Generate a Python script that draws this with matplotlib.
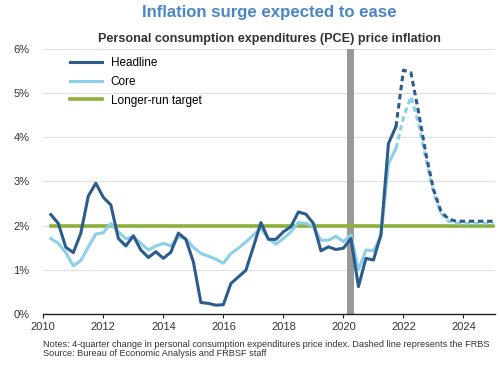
import matplotlib
matplotlib.use("Agg")
import matplotlib.pyplot as plt
from matplotlib.ticker import FuncFormatter

plt.rcParams['font.family'] = ['Liberation Sans', 'DejaVu Sans']

# quarterly dates (end of quarter), 2010Q1 .. 2021Q3 actual
actual_t = [2010 + 0.25 * (i + 1) for i in range(47)]
headline = [2.25, 2.05, 1.51, 1.39, 1.83, 2.67, 2.96, 2.64, 2.47, 1.71, 1.54, 1.77,
            1.45, 1.28, 1.41, 1.26, 1.40, 1.83, 1.69, 1.18, 0.26, 0.24, 0.20, 0.21,
            0.69, 0.84, 0.99, 1.52, 2.07, 1.69, 1.69, 1.86, 1.98, 2.31, 2.26, 2.05,
            1.43, 1.52, 1.46, 1.49, 1.71, 0.62, 1.26, 1.22, 1.80, 3.86, 4.24]
core = [1.71, 1.60, 1.39, 1.09, 1.21, 1.52, 1.81, 1.84, 2.05, 1.86, 1.70, 1.75,
        1.60, 1.45, 1.54, 1.60, 1.54, 1.75, 1.70, 1.51, 1.37, 1.31, 1.24, 1.15,
        1.37, 1.49, 1.63, 1.79, 1.94, 1.71, 1.58, 1.71, 1.86, 2.07, 2.05, 1.98,
        1.67, 1.67, 1.76, 1.64, 1.79, 1.00, 1.45, 1.43, 1.75, 3.40, 3.75]

# FRBSF forecast, 2021Q3 .. 2024Q4
fc_t = [2021.75 + 0.25 * i for i in range(14)]
headline_fc = [4.24, 5.52, 5.46, 4.58, 3.62, 2.82, 2.32, 2.15, 2.10, 2.10, 2.10, 2.10, 2.10, 2.10]
core_fc = [3.75, 4.45, 4.92, 4.32, 3.50, 2.75, 2.28, 2.10, 2.06, 2.05, 2.05, 2.05, 2.05, 2.05]

target = 2.0
recession = (2020.125, 2020.36)

c_head = '#2c5c8c'
c_core = '#8ccfe8'
c_target = '#8cb03c'

fig = plt.figure(figsize=(5, 3.65), dpi=100)
ax = fig.add_axes([0.0866, 0.1397, 0.9034, 0.7263])

ax.axvspan(recession[0], recession[1], color='#999999', lw=0, zorder=1)
ax.plot([2010.25, 2025], [target, target], color=c_target, lw=2.6, zorder=2,
        label='Longer-run target')
ax.plot(fc_t, core_fc, color=c_core, lw=2.2, ls=(0, (1.8, 1.2)), zorder=3)
ax.plot(actual_t, core, color=c_core, lw=2.2, zorder=4, label='Core')
ax.plot(fc_t, headline_fc, color=c_head, lw=2.2, ls=(0, (1.8, 1.2)), zorder=5)
ax.plot(actual_t, headline, color=c_head, lw=2.2, zorder=6, label='Headline')

ax.set_xlim(2010, 2025.05)
ax.set_ylim(0, 6)
ax.set_xticks(range(2010, 2025, 2))
ax.set_yticks(range(0, 7))
ax.yaxis.set_major_formatter(FuncFormatter(lambda v, p: '%d%%' % v))
ax.grid(axis='y', color='#e0e0e0', lw=0.8, zorder=0)
ax.set_axisbelow(True)
for s in ['left', 'right', 'top']:
    ax.spines[s].set_visible(False)
ax.spines['bottom'].set_color('#222222')
ax.spines['bottom'].set_linewidth(1.0)
ax.tick_params(axis='x', direction='out', length=3, width=0.8, color='#222222',
               labelsize=8, labelcolor='#333333', pad=3)
ax.tick_params(axis='y', length=0, labelsize=8, labelcolor='#333333', pad=10)

handles, labels = ax.get_legend_handles_labels()
order = [2, 1, 0]
ax.legend([handles[i] for i in order], [labels[i] for i in order],
          loc='upper left', bbox_to_anchor=(0.06, 0.97), frameon=False,
          fontsize=8.5, handlelength=2.7, handletextpad=0.7, labelspacing=0.58,
          borderpad=0, borderaxespad=0)

fig.text(0.538, 0.967, 'Inflation surge expected to ease', ha='center', va='center',
         fontsize=12.1, fontweight='bold', color='#4a86c6')
fig.text(0.538, 0.893, 'Personal consumption expenditures (PCE) price inflation',
         ha='center', va='center', fontsize=9.1, fontweight='bold', color='#333333')
fig.text(0.086, 0.0447, 'Notes: 4-quarter change in personal consumption expenditures '
         'price index. Dashed line represents the FRBS\n'
         'Source: Bureau of Economic Analysis and FRBSF staff',
         ha='left', va='center', fontsize=6.6, color='#333333', linespacing=1.0)

fig.savefig('out.png', dpi=100)
